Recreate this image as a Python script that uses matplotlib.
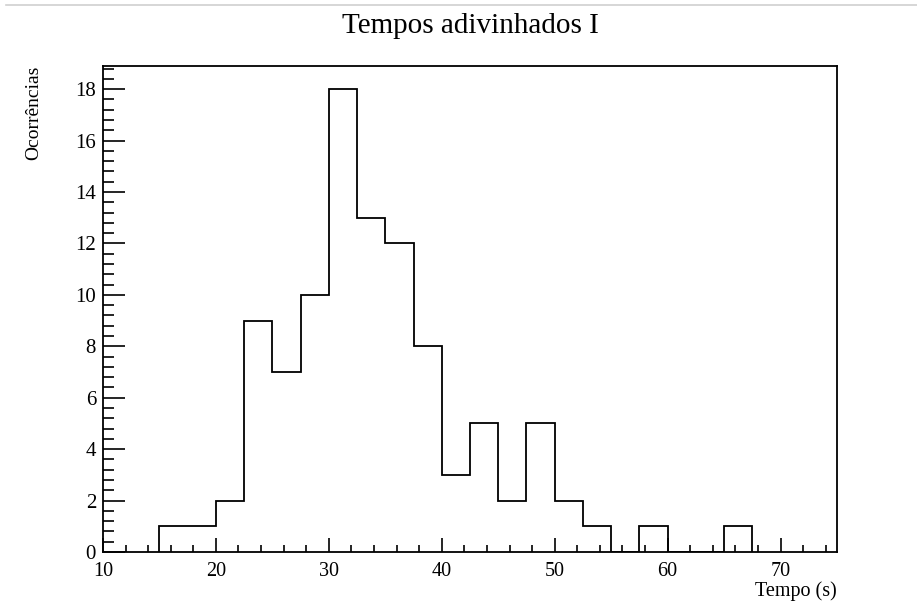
import numpy as np
import matplotlib
matplotlib.use('Agg')
import matplotlib.pyplot as plt
from matplotlib.ticker import MultipleLocator
from matplotlib.lines import Line2D

# histogram bins (width 2.5 s) and counts
bin_edges = np.arange(15, 67.5 + 0.01, 2.5)
counts = [1, 1, 2, 9, 7, 10, 18, 13, 12, 8, 3, 5, 2, 5, 2, 1, 0, 1, 0, 0, 1]

plt.rcParams['font.family'] = ['Liberation Serif', 'DejaVu Serif']

fig = plt.figure(figsize=(9.17, 6.11), dpi=100)
ax = fig.add_axes([0.1123, 0.0966, 0.8005, 0.7954])

# ROOT style outline histogram
ax.stairs(counts, bin_edges, color='black', linewidth=1.3)

ax.set_xlim(10, 75)
ax.set_ylim(0, 18.9)

ax.xaxis.set_major_locator(MultipleLocator(10))
ax.xaxis.set_minor_locator(MultipleLocator(2))
ax.yaxis.set_major_locator(MultipleLocator(2))
ax.yaxis.set_minor_locator(MultipleLocator(0.4))

ax.tick_params(axis='x', which='major', direction='in', length=10, width=1.2, labelsize=14.5, pad=7)
ax.tick_params(axis='x', which='minor', direction='in', length=5, width=1.2)
ax.tick_params(axis='y', which='major', direction='in', length=16, width=1.2, labelsize=15, pad=5)
ax.tick_params(axis='y', which='minor', direction='in', length=8, width=1.2)

for s in ax.spines.values():
    s.set_linewidth(1.3)

fig.text(0.912, 0.024, 'Tempo (s)', ha='right', va='baseline', fontsize=14.5)
fig.text(0.037, 0.893, 'Ocorrências', ha='center', va='top', rotation=90, fontsize=14)
fig.text(0.513, 0.957, 'Tempos adivinhados I', ha='center', va='center', fontsize=21)

# faint canvas edge at the very top
fig.add_artist(Line2D([0.007, 1.0], [0.992, 0.992], transform=fig.transFigure,
                      color='#d0d0d0', linewidth=1.2))

fig.savefig('out.png', dpi=100)
